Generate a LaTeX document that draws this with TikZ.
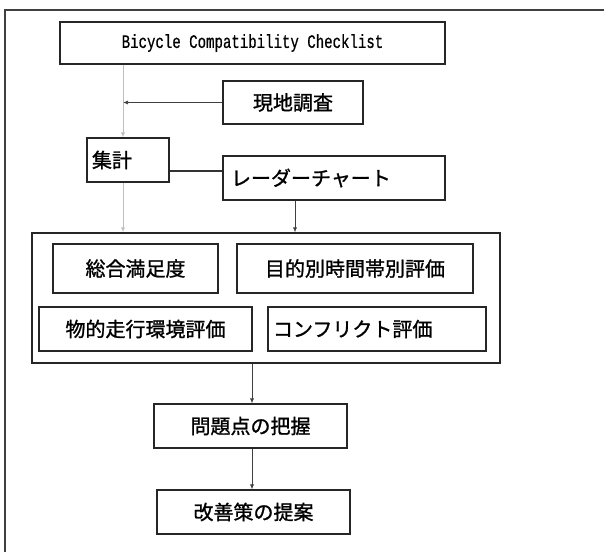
\documentclass[tikz,border=0pt]{standalone}
\usepackage{fontspec}
\setmainfont{Noto Sans CJK JP}
\newfontfamily\jpf[FakeBold=1.2]{Noto Sans CJK JP}
\newfontfamily\nmono[FakeStretch=0.74,FakeBold=0.6]{Liberation Mono}
\usetikzlibrary{arrows.meta}
\begin{document}
\begin{tikzpicture}[x=1pt,y=-1pt,
  box/.style={draw=black!85, line width=1.1pt, inner sep=0pt, font=\jpf\fontsize{20}{20}\selectfont},
  lbox/.style={box, align=left},
  conn/.style={draw=black!75, line width=0.7pt, -{Latex[length=5pt,width=4pt]}},
  gconn/.style={draw=black!25, line width=1pt, -{Latex[length=5pt,width=4pt]}},
  plain/.style={draw=black!80, line width=1.1pt}]
\useasboundingbox (0,0) rectangle (604,552);
\draw[draw=black!75, line width=1.5pt] (604,10) -- (5,10) -- (5,552);

\node[box, minimum width=385pt, minimum height=42pt, font=\nmono\fontsize{19}{19}\selectfont] (bcc) at (252.5,43) {Bicycle Compatibility Checklist};
\node[box, minimum width=140pt, minimum height=43pt] (gen) at (293,102.5) {現地調査};
\node[lbox, text width=72pt, inner xsep=5pt, minimum height=44pt] (shu) at (128,160) {集計};
\node[lbox, text width=206pt, inner xsep=8pt, minimum height=44pt] (rad) at (334,178) {レーダーチャート};
\node[box, minimum width=468pt, minimum height=130pt] (big) at (266,298) {};
\node[box, minimum width=165pt, minimum height=49pt] (sou) at (135.5,268.5) {総合満足度};
\node[box, minimum width=236pt, minimum height=49pt] (mok) at (355,268.5) {目的別時間帯別評価};
\node[box, minimum width=213pt, minimum height=44pt] (but) at (145.5,329) {物的走行環境評価};
\node[lbox, text width=208pt, inner xsep=5pt, minimum height=44pt] (con) at (377,329) {コンフリクト評価};
\node[box, minimum width=193pt, minimum height=44pt] (mon) at (250.5,426) {問題点の把握};
\node[box, minimum width=193pt, minimum height=44pt] (kai) at (253.5,512) {改善策の提案};

\coordinate (cx) at (123,0);
\coordinate (rx) at (295,0);
\coordinate (mx) at (252,0);
\coordinate (ly) at (0,171);

\draw[gconn] (bcc.south -| cx) -- (shu.north -| cx);
\draw[conn] (gen.west) -- (gen.west -| cx);
\draw[plain] (shu.east |- ly) -- (rad.west |- ly);
\draw[gconn] (shu.south -| cx) -- (big.north -| cx);
\draw[conn] (rad.south -| rx) -- (big.north -| rx);
\draw[conn] (big.south -| mx) -- (mon.north -| mx);
\draw[conn] (mon.south -| mx) -- (kai.north -| mx);
\end{tikzpicture}
\end{document}
